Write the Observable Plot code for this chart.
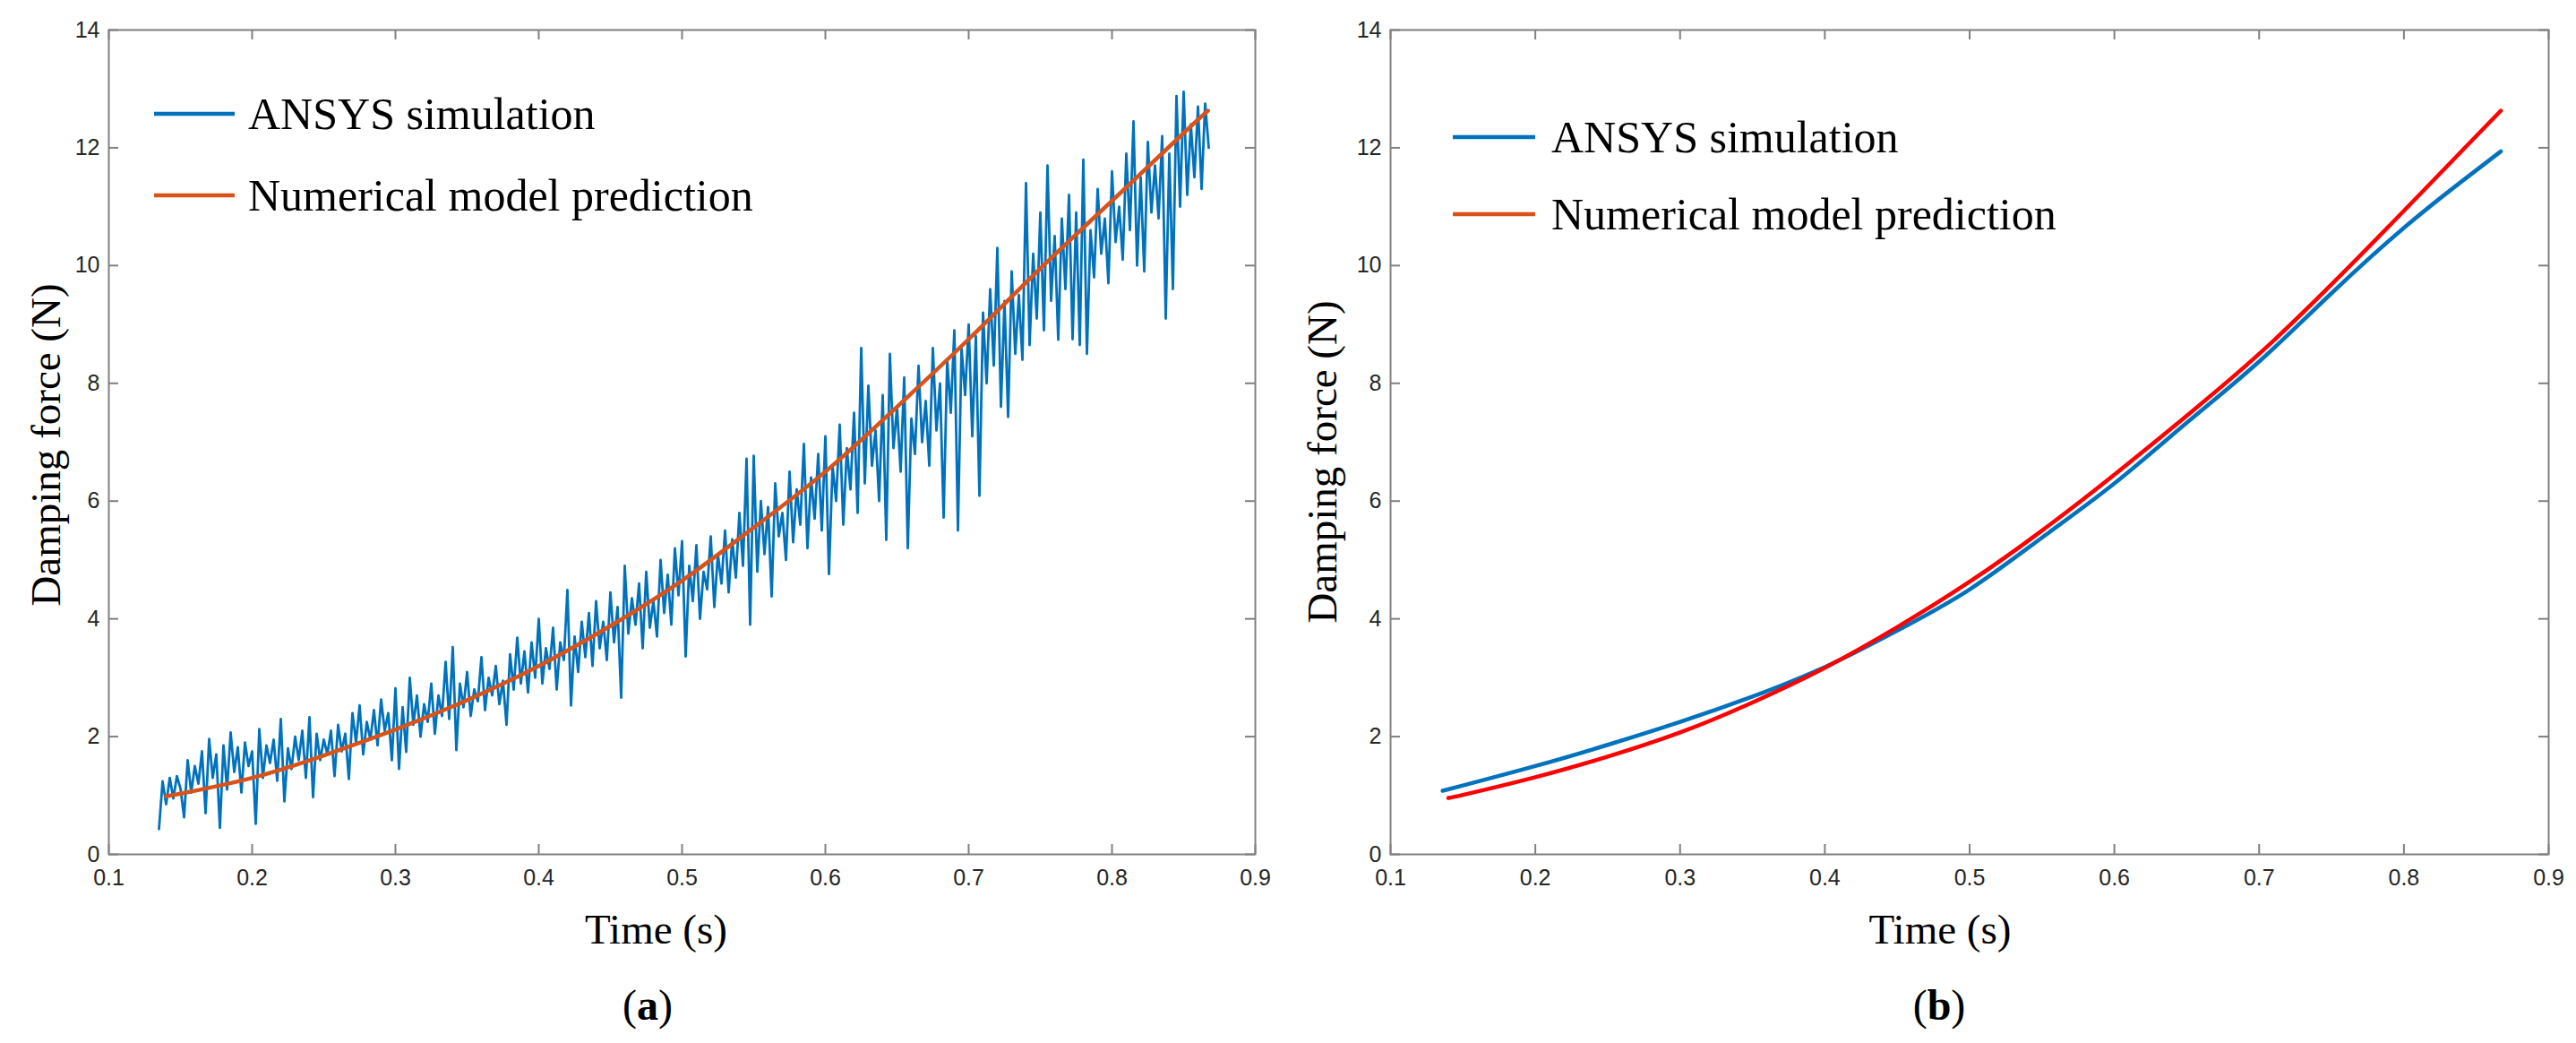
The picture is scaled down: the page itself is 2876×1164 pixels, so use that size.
<!DOCTYPE html>
<html><head><meta charset="utf-8">
<script src="https://cdn.jsdelivr.net/npm/d3@7"></script>
<script src="https://cdn.jsdelivr.net/npm/@observablehq/plot@0.6"></script>
<style>
body{margin:0;background:#fff;}
#wrap{display:flex;width:2876px;}
.panel{width:1438px;}
.cap{height:84px;line-height:84px;font-family:"Liberation Serif","Times New Roman",serif;font-size:48px;text-align:center;color:#000;}
</style></head><body><div id="wrap"></div>
<script>
// ---- data ----
const xTicks = [0.1,0.2,0.3,0.4,0.5,0.6,0.7,0.8,0.9];
const yTicks = [0,2,4,6,8,10,12,14];
const legendLabels = ["ANSYS simulation","Numerical model prediction"];
const xTitle = "Time (s)";
const yTitle = "Damping force (N)";

// (a) ANSYS simulation, sampled every 0.0025 s from 0.135 s
const tStart = 0.135, tStep = 0.0025;
const ansysA = [
0.43,1.24,0.85,1.3,0.95,1.33,1.12,0.63,1.6,1.05,1.5,1.2,1.75,0.7,1.96,1.3,1.7,0.45,1.85,1.1,
2.07,1.4,1.82,1.05,1.9,1.5,1.75,0.52,2.13,1.3,1.85,1.55,1.95,1.25,2.3,0.9,1.8,1.45,2.0,1.6,
2.1,1.3,2.33,0.97,2.05,1.6,1.95,1.7,2.1,1.33,2.2,1.75,2.05,1.28,2.4,1.9,2.53,1.7,2.25,1.95,
2.45,1.85,2.63,2.1,2.4,1.6,2.82,1.45,2.5,1.74,3.0,2.2,2.7,2.0,2.55,2.25,2.9,2.05,2.7,2.35,
3.27,2.3,3.52,1.77,2.9,2.5,3.1,2.35,2.8,2.6,3.35,2.45,3.0,2.7,3.2,2.55,2.95,2.2,3.4,2.8,
3.68,2.9,3.45,2.75,3.6,3.0,4.0,2.9,3.5,3.15,3.85,2.8,3.6,3.3,4.49,2.53,3.7,3.1,3.95,3.35,
4.1,3.2,4.3,3.5,3.95,3.3,4.45,3.6,4.2,2.66,4.9,3.75,4.35,3.9,4.6,3.5,4.8,3.85,4.3,3.7,
5.0,4.1,4.75,3.9,5.2,4.4,5.32,3.36,4.9,4.3,5.25,4.0,4.8,4.5,5.4,4.2,5.1,4.6,5.5,4.45,
5.35,4.7,5.8,4.9,6.72,3.9,6.77,4.8,6.0,5.1,5.9,4.38,6.3,5.4,5.8,5.0,6.5,5.3,6.2,5.6,
6.97,5.2,6.4,5.7,6.8,5.5,7.1,4.76,6.6,6.0,7.3,5.6,6.9,6.2,7.5,5.8,8.6,6.3,7.96,6.6,
7.2,6.0,7.8,5.34,8.5,6.9,7.6,6.5,8.1,5.2,7.4,6.8,8.3,7.0,7.7,6.6,8.6,7.2,8.0,5.72,
8.4,7.5,8.9,5.5,8.6,7.8,9.0,7.1,8.8,6.09,9.2,8.0,9.6,8.3,10.3,7.6,9.4,7.43,9.9,8.5,
9.5,8.4,11.4,8.65,10.2,9.1,10.9,8.9,11.7,9.4,10.5,8.74,10.8,9.6,11.2,8.75,10.9,8.65,11.8,8.5,
10.6,9.8,11.3,10.2,10.8,9.7,11.6,10.4,11.0,10.1,11.9,10.6,12.45,10.0,11.5,9.9,12.1,10.9,11.7,10.8,
12.2,9.1,11.9,9.6,12.88,11.0,12.95,11.2,12.4,11.5,12.7,11.3,12.75,12.0
];
// model prediction (a) and (b)
const modelT = [0.14,0.15,0.2,0.25,0.3,0.35,0.4,0.45,0.5,0.55,0.6,0.65,0.7,0.75,0.8,0.85,0.867];
const modelA = [0.99,1.03,1.3,1.68,2.12,2.62,3.2,3.88,4.65,5.55,6.5,7.6,8.75,9.95,11.1,12.25,12.63];
const modelB = [0.96,1.01,1.31,1.66,2.07,2.58,3.17,3.86,4.63,5.5,6.45,7.45,8.5,9.68,10.93,12.2,12.63];
// (b) ANSYS simulation (smoothed)
const ansysBT = [0.136,0.15,0.2,0.25,0.3,0.35,0.4,0.45,0.5,0.55,0.6,0.65,0.7,0.75,0.8,0.84,0.867];
const ansysB = [1.08,1.17,1.5,1.86,2.25,2.68,3.18,3.8,4.5,5.38,6.3,7.33,8.37,9.53,10.64,11.43,11.94];

// ---- styles ----
const BLUE = "#0072BD", ORANGE = "#D95319", RED = "#FF0000", AXIS = "#808080";
const SERIF = "Liberation Serif, Times New Roman, serif";
const SANS = "Liberation Sans, Arial, Helvetica, sans-serif";

const W = 1438, H = 1080, MT = 33, MB = 127;

function legendMark(x0, y0, gap, len, textGap, colors) {
  return () => {
    const g = d3.create("svg:g");
    legendLabels.forEach((lab, i) => {
      const y = y0 + i * gap;
      g.append("line").attr("x1", x0).attr("x2", x0 + len).attr("y1", y).attr("y2", y)
        .attr("stroke", colors[i]).attr("stroke-width", 4.5);
      g.append("text").attr("x", x0 + len + textGap).attr("y", y + 16.5)
        .attr("text-anchor", "start")
        .attr("font-family", SERIF).attr("font-size", 50).attr("fill", "#000").text(lab);
    });
    return g.node();
  };
}

function panel(opts) {
  const {ml, mr, lineMarks, legend, yDx, yDy, xDx} = opts;
  const fw = W - ml - mr, fh = H - MT - MB, tl = 11;
  return Plot.plot({
    width: W, height: H,
    marginLeft: ml, marginRight: mr, marginTop: MT, marginBottom: MB,
    style: {fontFamily: SANS, fontSize: "25px", color: "#262626", background: "#fff"},
    x: {domain: [0.1, 0.9]},
    y: {domain: [0, 14]},
    marks: [
      ...lineMarks,
      Plot.frame({stroke: AXIS, strokeWidth: 2}),
      Plot.tickX(xTicks, {x: d => d, insetTop: fh - tl, stroke: AXIS, strokeWidth: 2}),
      Plot.tickX(xTicks, {x: d => d, insetBottom: fh - tl, stroke: AXIS, strokeWidth: 2}),
      Plot.tickY(yTicks, {y: d => d, insetRight: fw - tl, stroke: AXIS, strokeWidth: 2}),
      Plot.tickY(yTicks, {y: d => d, insetLeft: fw - tl, stroke: AXIS, strokeWidth: 2}),
      Plot.axisX({ticks: xTicks, tickSize: 0, tickPadding: 17, label: null, fontSize: 25, tickFormat: d => d.toFixed(1)}),
      Plot.axisY({ticks: yTicks, tickSize: 0, tickPadding: 10, label: null, fontSize: 25}),
      Plot.text([xTitle], {frameAnchor: "bottom", lineAnchor: "bottom", dy: 99, dx: xDx, fontSize: 47, fontFamily: SERIF, fill: "#000"}),
      Plot.text([yTitle], {frameAnchor: "left", rotate: -90, textAnchor: "middle", lineAnchor: "middle", dx: yDx, dy: yDy, fontSize: 47, fontFamily: SERIF, fill: "#000"}),
      legend
    ]
  });
}

const dataA = ansysA.map((v, i) => ({t: tStart + i * tStep, v}));
const modA = modelT.map((t, i) => ({t, v: modelA[i]}));
const modB = modelT.map((t, i) => ({t, v: modelB[i]}));
const simB = ansysBT.map((t, i) => ({t, v: ansysB[i]}));

const plotA = panel({
  ml: 121, mr: 37, xDx: -29, yDx: -70, yDy: 3,
  lineMarks: [
    Plot.line(dataA, {x: "t", y: "v", stroke: BLUE, strokeWidth: 2.8, strokeLinejoin: "round"}),
    Plot.line(modA, {x: "t", y: "v", stroke: ORANGE, strokeWidth: 4.5, curve: "natural"})
  ],
  legend: legendMark(172, 127, 91, 90, 15, [BLUE, ORANGE])
});
const plotB = panel({
  ml: 114, mr: 31, xDx: -33, yDx: -76, yDy: 22,
  lineMarks: [
    Plot.line(simB, {x: "t", y: "v", stroke: BLUE, strokeWidth: 4.5, curve: "natural"}),
    Plot.line(modB, {x: "t", y: "v", stroke: RED, strokeWidth: 4.5, curve: "natural"})
  ],
  legend: legendMark(184, 153, 86, 92, 18, [BLUE, ORANGE])
});

const wrap = document.getElementById("wrap");
[[plotA, "a", 8], [plotB, "b", 16]].forEach(([p, letter, pad]) => {
  const div = document.createElement("div");
  div.className = "panel";
  div.appendChild(p);
  const cap = document.createElement("div");
  cap.className = "cap";
  cap.style.paddingLeft = pad + "px";
  cap.innerHTML = "(<b>" + letter + "</b>)";
  div.appendChild(cap);
  wrap.appendChild(div);
});
</script></body></html>
